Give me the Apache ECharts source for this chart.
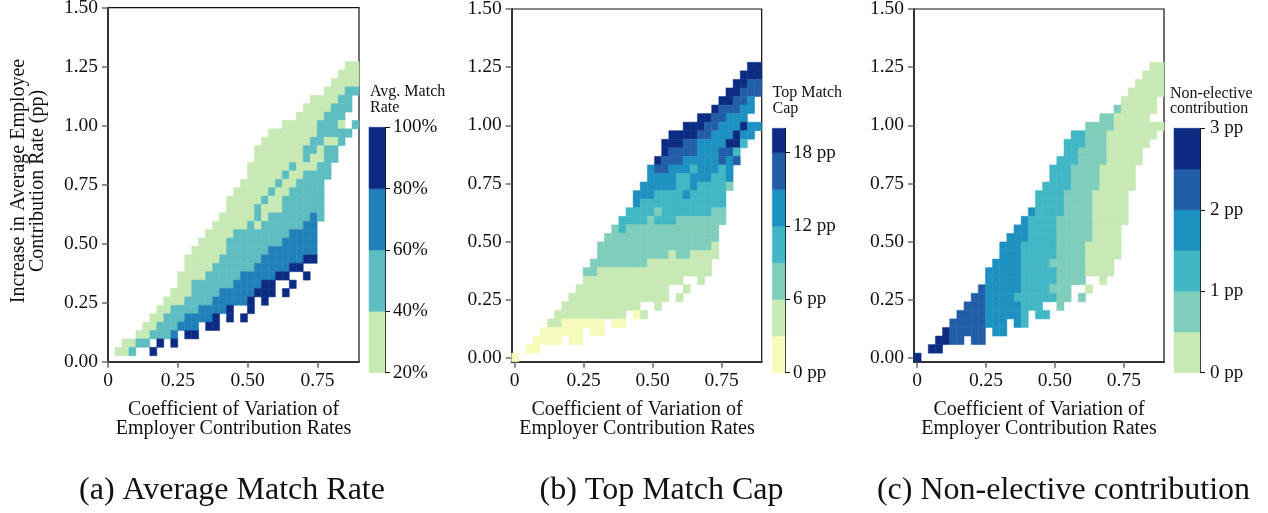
<!DOCTYPE html>
<html>
<head>
<meta charset="utf-8">
<script src="https://cdn.jsdelivr.net/npm/echarts@6/dist/echarts.min.js"></script>
<style>
  html, body { margin: 0; padding: 0; background: #ffffff; }
  #chart { width: 1268px; height: 513px; }
</style>
</head>
<body>
<div id="chart"></div>
<script>
// Binned heatmaps: increase in average employee contribution rate (pp)
// against the coefficient of variation of employer contribution rates,
// coloured by (a) average match rate, (b) top match cap, (c) non-elective contribution.

// ---- tick labels ----
const yTickValues = [0, 0.25, 0.5, 0.75, 1.0, 1.25, 1.5];
const xTickValues = [0, 0.25, 0.5, 0.75];
const matchRateTicks = [20, 40, 60, 80, 100];
const matchCapTicks = [0, 6, 12, 18];
const nonElectiveTicks = [0, 1, 2, 3];

// ---- bin edges of each colour scale ----
const matchRateEdges = [20, 40, 60, 80, 100];          // %
const matchCapEdges = [0, 3, 6, 9, 12, 15, 18, 20];    // pp
const nonElectiveEdges = [0, 0.5, 1, 1.5, 2, 2.5, 3];  // pp

// ---- colour of each bin (YlGnBu family) ----
const matchRateColors = ['#c7e9b4', '#5dbdc1', '#2180b9', '#0c2c84'];
const matchCapColors = ['#f6fbbc', '#c7e9b4', '#7fcdbb', '#41b6c4', '#1d91c0', '#225ea8', '#0c2c84'];
const nonElectiveColors = ['#c7e9b4', '#7fcdbb', '#41b6c4', '#1d91c0', '#225ea8', '#0c2c84'];

// ---- 35 x 35 bin grids: first edge and width of the CV bins (x) and increase bins (y) ----
const binsMatchRate = { x0: 0.025, dx: 0.02496, y0: 0.0254, dy: 0.0356 };
const binsOther = { x0: -0.011, dx: 0.0259, y0: -0.016, dy: 0.03677 };

// ---- binned cells: one string per y bin, top bin first.
//      "start:codes" -> first x bin index, then one colour-bin index per x bin ('.' = no data)
const matchRateRows = [
  '33:00', '32:000', '31:0000', '30:00011', '28:000011', '27:0000111', '26:0000111',
  '24:000001110.1', '22:000000011111', '21:000000011001', '20:000000011011',
  '20:000000010011', '19:000000100011', '19:000001001111', '18:000001001111',
  '17:0000010011111', '16:00000100111111', '16:00001000111111', '15:000001011111121',
  '14:000001011111122', '13:0000111111112222', '12:00001111111122222',
  '11:000001111112222222', '10:0000011111122222233', '10:00001111112222233',
  '9:0000111112222233..3', '9:00111111222233..3', '8:000111122222333.3',
  '7:0001111222223.3', '6:00111122223..3', '5:0011122223.3.3', '4:00111222.33',
  '3:001112.33', '1:0011.3.3', '0:001..3'
];

const matchCapRows = [
  '33:66', '32:666', '31:6655', '30:66555', '29:66554', '28:655544', '26:6655444',
  '24:66655444644', '22:666655444644', '21:666554444663', '21:65555444553',
  '20:655544444545', '19:455444344434', '19:444433444334', '18:4444433433332',
  '17:4443333433333', '17:4333333333333', '16:33332333333322', '15:333323332222222',
  '14:232222222222222', '13:2222222222222222', '12:22222222222222221',
  '12:22222222221221111', '11:22222222111111111', '10:221111111111111111',
  '10:11111111111111..1', '9:1111111111111..1', '8:11111111111111.1',
  '7:11111111111..1', '6:1111111111.01', '5:11000000.00', '4:000000.00',
  '3:0000.00', '2:00', '0:0'
];

const nonElectiveRows = [
  '33:00', '32:000', '31:0000', '30:00000', '29:00000', '28:100000', '26:1100000',
  '24:11110000000', '22:221110000000', '21:222111000000', '21:22111100000',
  '20:222111100000', '19:222111100000', '19:222111100000', '18:2222111100000',
  '17:2222111100000', '17:2222111100000', '16:32222111100000', '15:322221111100000',
  '14:332222111110000', '13:3332222111110000', '12:33322222111100000',
  '12:33322222111100000', '11:33332222111110000', '10:333332222211110000',
  '10:33333222221111..0', '9:4333332222111..0', '8:44333322222211.1',
  '7:44433333222..1', '6:4444333332.22', '5:44444333.32', '4:544444.33',
  '3:5544.44', '2:55', '0:5'
];

// ---- build cell rectangles [xLow, yLow, xHigh, yHigh, value] ----
function buildCells(rows, bins, edges) {
  const cells = [];
  const n = rows.length;
  rows.forEach(function (row, i) {
    const r = n - 1 - i;
    const parts = row.split(':');
    const start = +parts[0];
    const codes = parts[1];
    for (let k = 0; k < codes.length; k++) {
      const ch = codes[k];
      if (ch === '.') continue;
      const lvl = +ch;
      const c = start + k;
      cells.push([
        bins.x0 + c * bins.dx, bins.y0 + r * bins.dy,
        bins.x0 + (c + 1) * bins.dx, bins.y0 + (r + 1) * bins.dy,
        (edges[lvl] + edges[lvl + 1]) / 2
      ]);
    }
  });
  return cells;
}

function buildBar(edges) {
  const out = [];
  for (let i = 0; i < edges.length - 1; i++) {
    out.push([0, edges[i], 1, edges[i + 1], (edges[i] + edges[i + 1]) / 2]);
  }
  return out;
}

function pieces(edges, colors) {
  return colors.map(function (c, i) { return { gte: edges[i], lt: edges[i + 1], color: c }; });
}

function renderCell(params, api) {
  const a = api.coord([api.value(0), api.value(3)]);
  const b = api.coord([api.value(2), api.value(1)]);
  const fill = api.visual('color');
  return {
    type: 'rect',
    shape: { x: a[0], y: a[1], width: b[0] - a[0], height: b[1] - a[1] },
    style: { fill: fill, stroke: fill, lineWidth: 0.5 }
  };
}

const FONT = 'Liberation Serif';
const TXT = '#111111';

function mainXAxis(gi, min, max) {
  return {
    type: 'value', gridIndex: gi, min: min, max: max,
    splitLine: { show: false },
    axisLine: { show: true, onZero: false, lineStyle: { color: '#333333', width: 2 } },
    axisTick: { show: true, length: 6, lineStyle: { color: '#6b6b6b', width: 1.5 }, customValues: xTickValues },
    axisLabel: {
      customValues: xTickValues, margin: 9, color: TXT, fontFamily: FONT, fontSize: 19.5,
      formatter: function (v) { return v === 0 ? '0' : v.toFixed(2); }
    }
  };
}

function mainYAxis(gi, min, max) {
  return {
    type: 'value', gridIndex: gi, min: min, max: max,
    splitLine: { show: false },
    axisLine: { show: true, onZero: false, lineStyle: { color: '#333333', width: 2 } },
    axisTick: { show: true, length: 6, lineStyle: { color: '#6b6b6b', width: 1.5 }, customValues: yTickValues },
    axisLabel: {
      customValues: yTickValues, margin: 10, color: TXT, fontFamily: FONT, fontSize: 19.5,
      formatter: function (v) { return v.toFixed(2); }
    }
  };
}

function barXAxis(gi) {
  return { type: 'value', gridIndex: gi, min: 0, max: 1, show: false };
}

function barYAxis(gi, min, max, ticks, fmt, margin) {
  return {
    type: 'value', gridIndex: gi, min: min, max: max, position: 'right',
    splitLine: { show: false },
    axisLine: { show: true, onZero: false, lineStyle: { color: '#111111', width: 1 } },
    axisTick: { show: true, length: 5, lineStyle: { color: '#111111', width: 1 }, customValues: ticks },
    axisLabel: { customValues: ticks, margin: margin, color: TXT, fontFamily: FONT, fontSize: 19, formatter: fmt }
  };
}

const mainGrid = function (left, top, width, height) {
  return {
    left: left, top: top, width: width, height: height,
    show: true, borderColor: '#111111', borderWidth: 1.2, backgroundColor: 'transparent',
    outerBoundsMode: 'none'
  };
};
const barGrid = function (left, top, width, height) {
  return { left: left, top: top, width: width, height: height, show: false, outerBoundsMode: 'none' };
};

const chart = echarts.init(document.getElementById('chart'), null, { renderer: 'canvas' });

const titleStyle = { fontFamily: FONT, fontSize: 20, lineHeight: 19.5, fill: TXT, align: 'center', verticalAlign: 'top' };
const legendStyle = { fontFamily: FONT, fontSize: 16, lineHeight: 15.5, fill: TXT, align: 'left', verticalAlign: 'top' };
const captionStyle = { fontFamily: FONT, fontSize: 32, fill: TXT, align: 'center', verticalAlign: 'middle' };

chart.setOption({
  animation: false,
  backgroundColor: '#ffffff',
  grid: [
    mainGrid(108, 7.7, 251, 354),
    mainGrid(511.7, 9, 250, 352.7),
    mainGrid(914, 9, 250, 352.7),
    barGrid(369, 127.3, 16, 245.4),
    barGrid(772.3, 128.3, 12.7, 244.4),
    barGrid(1174, 128.3, 26, 244.4)
  ],
  xAxis: [
    mainXAxis(0, 0, 0.8985),
    mainXAxis(1, -0.011, 0.8955),
    mainXAxis(2, -0.011, 0.8955),
    barXAxis(3), barXAxis(4), barXAxis(5)
  ],
  yAxis: [
    mainYAxis(0, 0, 1.5),
    mainYAxis(1, -0.016, 1.5),
    mainYAxis(2, -0.016, 1.5),
    barYAxis(3, 20, 100, matchRateTicks, function (v) { return v + '%'; }, 8),
    barYAxis(4, 0, 20, matchCapTicks, function (v) { return v + ' pp'; }, 8),
    barYAxis(5, 0, 3, nonElectiveTicks, function (v) { return v + ' pp'; }, 10)
  ],
  visualMap: [
    { type: 'piecewise', show: false, dimension: 4, seriesIndex: [0, 3], pieces: pieces(matchRateEdges, matchRateColors) },
    { type: 'piecewise', show: false, dimension: 4, seriesIndex: [1, 4], pieces: pieces(matchCapEdges, matchCapColors) },
    { type: 'piecewise', show: false, dimension: 4, seriesIndex: [2, 5], pieces: pieces(nonElectiveEdges, nonElectiveColors) }
  ],
  series: [
    { type: 'custom', name: 'Avg. Match Rate', xAxisIndex: 0, yAxisIndex: 0, renderItem: renderCell,
      encode: { x: [0, 2], y: [1, 3] }, data: buildCells(matchRateRows, binsMatchRate, matchRateEdges) },
    { type: 'custom', name: 'Top Match Cap', xAxisIndex: 1, yAxisIndex: 1, renderItem: renderCell,
      encode: { x: [0, 2], y: [1, 3] }, data: buildCells(matchCapRows, binsOther, matchCapEdges) },
    { type: 'custom', name: 'Non-elective contribution', xAxisIndex: 2, yAxisIndex: 2, renderItem: renderCell,
      encode: { x: [0, 2], y: [1, 3] }, data: buildCells(nonElectiveRows, binsOther, nonElectiveEdges) },
    { type: 'custom', xAxisIndex: 3, yAxisIndex: 3, renderItem: renderCell,
      encode: { x: [0, 2], y: [1, 3] }, data: buildBar(matchRateEdges) },
    { type: 'custom', xAxisIndex: 4, yAxisIndex: 4, renderItem: renderCell,
      encode: { x: [0, 2], y: [1, 3] }, data: buildBar(matchCapEdges) },
    { type: 'custom', xAxisIndex: 5, yAxisIndex: 5, renderItem: renderCell,
      encode: { x: [0, 2], y: [1, 3] }, data: buildBar(nonElectiveEdges) }
  ],
  graphic: [
    { type: 'text', x: 28, y: 181, rotation: Math.PI / 2,
      style: Object.assign({}, titleStyle, { verticalAlign: 'middle', text: 'Increase in Average Employee\nContribution Rate (pp)' }) },
    { type: 'text', x: 233.5, y: 399.5, style: Object.assign({}, titleStyle, { text: 'Coefficient of Variation of\nEmployer Contribution Rates' }) },
    { type: 'text', x: 637, y: 399.5, style: Object.assign({}, titleStyle, { text: 'Coefficient of Variation of\nEmployer Contribution Rates' }) },
    { type: 'text', x: 1039, y: 399.5, style: Object.assign({}, titleStyle, { text: 'Coefficient of Variation of\nEmployer Contribution Rates' }) },
    { type: 'text', x: 370, y: 84.5, style: Object.assign({}, legendStyle, { text: 'Avg. Match\nRate' }) },
    { type: 'text', x: 772.5, y: 85.5, style: Object.assign({}, legendStyle, { text: 'Top Match\nCap' }) },
    { type: 'text', x: 1170, y: 86, style: Object.assign({}, legendStyle, { text: 'Non-elective\ncontribution' }) },
    { type: 'text', x: 232, y: 491, style: Object.assign({}, captionStyle, { text: '(a) Average Match Rate' }) },
    { type: 'text', x: 661.5, y: 491, style: Object.assign({}, captionStyle, { text: '(b) Top Match Cap' }) },
    { type: 'text', x: 1063.5, y: 491, style: Object.assign({}, captionStyle, { text: '(c) Non-elective contribution' }) }
  ]
});
</script>
</body>
</html>
